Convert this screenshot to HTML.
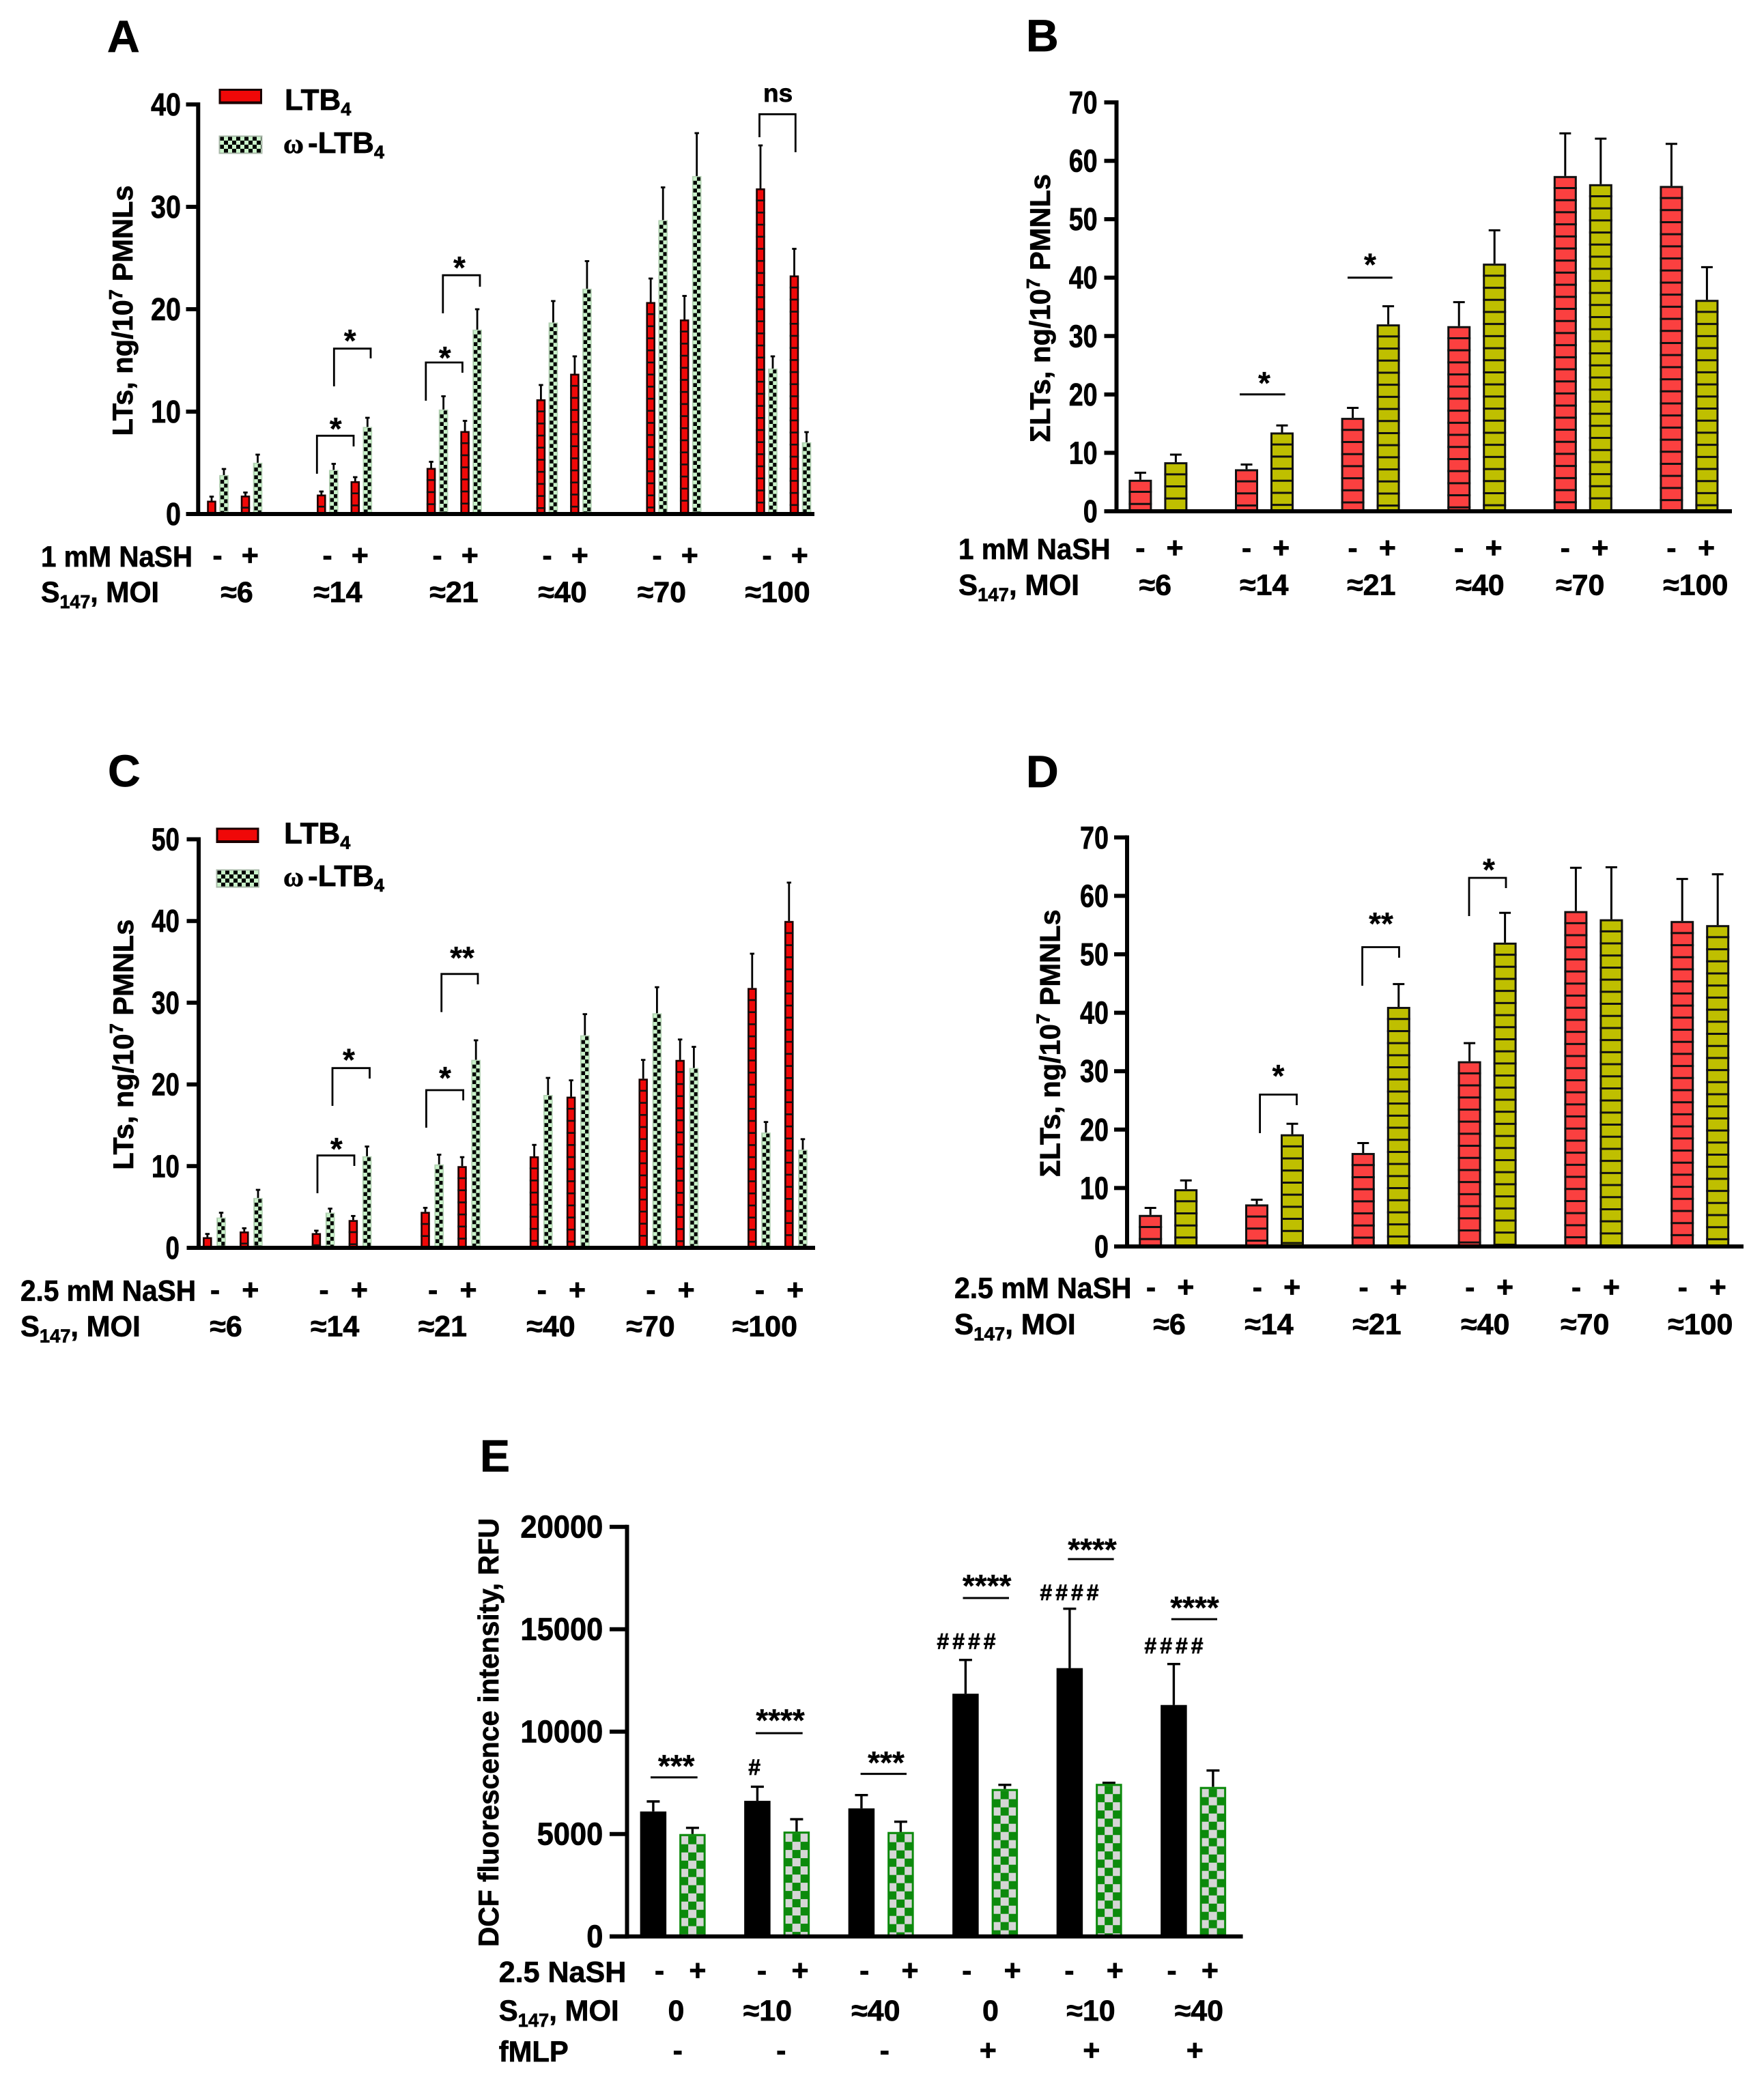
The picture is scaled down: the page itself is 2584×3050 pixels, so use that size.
<!DOCTYPE html>
<html lang="en">
<head>
<meta charset="utf-8">
<title>Leukotriene and DCF fluorescence panels</title>
<style>
html,body{margin:0;padding:0;background:#fff}
svg{display:block}
text{font-family:"Liberation Sans","DejaVu Sans",sans-serif;font-weight:700;fill:#000;stroke:#000;stroke-width:.7px}
.letter{font-size:66px}
.row{font-size:43px}
.ytitle{font-size:42px}
.star{font-size:46px;text-anchor:middle;stroke-width:.3px}
.hash{font-size:32px;text-anchor:middle;letter-spacing:5px}
.leg{font-size:44px}
.bracket{fill:none;stroke:#000;stroke-width:2.8}
.sigline{stroke:#000;stroke-width:3}
</style>
</head>
<body>
<svg id="figure" width="2584" height="3050" viewBox="0 0 2584 3050">
  <defs id="defs">
    <pattern id="legend-check" patternUnits="userSpaceOnUse" x="322" y="200" width="12" height="12">
      <rect width="12" height="12" fill="#c9f2c9"/><rect width="6" height="6" fill="#000"/><rect x="6" y="6" width="6" height="6" fill="#000"/>
    </pattern>
    <pattern id="legend-check-c" patternUnits="userSpaceOnUse" x="318" y="1275" width="12" height="12">
      <rect width="12" height="12" fill="#c9f2c9"/><rect width="6" height="6" fill="#000"/><rect x="6" y="6" width="6" height="6" fill="#000"/>
    </pattern>
  </defs>
  <rect width="2584" height="3050" fill="#fff"/>

  <g id="panel-a">
    <text class="letter" x="157" y="76">A</text>
    <text class="ytitle" transform="translate(194,638.5) rotate(-90)" textLength="367" lengthAdjust="spacingAndGlyphs">LTs, ng/10<tspan font-size="28" dy="-15">7</tspan><tspan dy="15"> PMNLs</tspan></text>
    <g>
      <rect x="322" y="131.5" width="60.5" height="19.5" fill="#f00808" stroke="#1a0000" stroke-width="3"/>
      <rect x="321.5" y="148.5" width="62" height="4" fill="#1a0000"/>
      <text class="leg" x="417" y="161">LTB<tspan font-size="27" dy="8">4</tspan></text>
      <rect x="321.5" y="199.5" width="62" height="25" fill="url(#legend-check)" stroke="#a9b8a9" stroke-width="2"/>
      <text x="415" y="224" font-size="41" style="font-family:'Liberation Serif',serif">ω</text>
      <text class="leg" x="451" y="224">-LTB<tspan font-size="27" dy="8">4</tspan></text>
    </g>
    <text class="row" x="60" y="830" textLength="222" lengthAdjust="spacingAndGlyphs">1 mM NaSH</text>
    <text class="row" x="60" y="882" textLength="173" lengthAdjust="spacingAndGlyphs">S<tspan font-size="28" dy="9">147</tspan><tspan dy="-9">, MOI</tspan></text>
    <path class="bracket" d="M464.3 694V638.3H518V654"/>
    <text class="star" x="491.7" y="644">*</text>
    <path class="bracket" d="M489.3 566V510.7H543V525"/>
    <text class="star" x="512.7" y="515">*</text>
    <path class="bracket" d="M623.8 587V531H677.4V546"/>
    <text class="star" x="651.7" y="540">*</text>
    <path class="bracket" d="M648.8 459V403.2H703V420"/>
    <text class="star" x="673" y="408">*</text>
    <path class="bracket" d="M1112.5 201V167.3H1165.3V223"/>
    <text x="1139.6" y="149" font-size="37" text-anchor="middle">ns</text>
  </g>

  <g id="panel-b">
    <text class="letter" x="1503" y="75">B</text>
    <text class="ytitle" transform="translate(1538,648) rotate(-90)" textLength="393" lengthAdjust="spacingAndGlyphs">ΣLTs, ng/10<tspan font-size="28" dy="-15">7</tspan><tspan dy="15"> PMNLs</tspan></text>
    <text class="row" x="1404" y="819" textLength="222.6" lengthAdjust="spacingAndGlyphs">1 mM NaSH</text>
    <text class="row" x="1404" y="871.5" textLength="177" lengthAdjust="spacingAndGlyphs">S<tspan font-size="28" dy="9">147</tspan><tspan dy="-9">, MOI</tspan></text>
    <line class="sigline" x1="1816" x2="1882.7" y1="577.7" y2="577.7"/>
    <text class="star" x="1852" y="577">*</text>
    <line class="sigline" x1="1974" x2="2039.7" y1="406.7" y2="406.7"/>
    <text class="star" x="2007" y="403.5">*</text>
  </g>

  <g id="panel-c">
    <text class="letter" x="158" y="1152">C</text>
    <text class="ytitle" transform="translate(195,1713.8) rotate(-90)" textLength="367" lengthAdjust="spacingAndGlyphs">LTs, ng/10<tspan font-size="28" dy="-15">7</tspan><tspan dy="15"> PMNLs</tspan></text>
    <g>
      <rect x="318" y="1214" width="60" height="19.5" fill="#f00808" stroke="#1a0000" stroke-width="3"/>
      <rect x="317" y="1231" width="62" height="4" fill="#1a0000"/>
      <text class="leg" x="416" y="1235.5">LTB<tspan font-size="27" dy="8">4</tspan></text>
      <rect x="317.5" y="1274.5" width="61.5" height="25" fill="url(#legend-check-c)" stroke="#a9b8a9" stroke-width="2"/>
      <text x="415" y="1298" font-size="41" style="font-family:'Liberation Serif',serif">ω</text>
      <text class="leg" x="451" y="1298">-LTB<tspan font-size="27" dy="8">4</tspan></text>
    </g>
    <text class="row" x="30" y="1905.7" textLength="257" lengthAdjust="spacingAndGlyphs">2.5 mM NaSH</text>
    <text class="row" x="30" y="1957.3" textLength="175.7" lengthAdjust="spacingAndGlyphs">S<tspan font-size="28" dy="9">147</tspan><tspan dy="-9">, MOI</tspan></text>
    <path class="bracket" d="M465 1748V1692.7H519V1708"/>
    <text class="star" x="492.8" y="1699">*</text>
    <path class="bracket" d="M487 1620V1564.7H541.5V1580"/>
    <text class="star" x="511" y="1568.6">*</text>
    <path class="bracket" d="M624.4 1652V1597H678.6V1612"/>
    <text class="star" x="652" y="1595">*</text>
    <path class="bracket" d="M646.7 1482.6V1426.8H700V1442"/>
    <text class="star" x="677" y="1419">**</text>
  </g>

  <g id="panel-d">
    <text class="letter" x="1503" y="1153">D</text>
    <text class="ytitle" transform="translate(1552.7,1724.4) rotate(-90)" textLength="392" lengthAdjust="spacingAndGlyphs">ΣLTs, ng/10<tspan font-size="28" dy="-15">7</tspan><tspan dy="15"> PMNLs</tspan></text>
    <text class="row" x="1398" y="1901.6" textLength="259.5" lengthAdjust="spacingAndGlyphs">2.5 mM NaSH</text>
    <text class="row" x="1398" y="1954.4" textLength="177.7" lengthAdjust="spacingAndGlyphs">S<tspan font-size="28" dy="9">147</tspan><tspan dy="-9">, MOI</tspan></text>
    <path class="bracket" d="M1845.6 1660V1603.5H1899.5V1619"/>
    <text class="star" x="1872.5" y="1592">*</text>
    <path class="bracket" d="M1995.6 1444V1387.5H2049.5V1403"/>
    <text class="star" x="2023" y="1369">**</text>
    <path class="bracket" d="M2152 1342V1286H2206V1301"/>
    <text class="star" x="2181" y="1290">*</text>
  </g>

  <g id="panel-e">
    <text class="letter" x="703" y="2155.5">E</text>
    <text class="ytitle" transform="translate(730,2852) rotate(-90)" textLength="628" lengthAdjust="spacingAndGlyphs">DCF fluorescence intensity, RFU</text>
    <text class="row" x="730.7" y="2903.3" textLength="186.6" lengthAdjust="spacingAndGlyphs">2.5 NaSH</text>
    <text class="row" x="730.7" y="2960" textLength="176" lengthAdjust="spacingAndGlyphs">S<tspan font-size="28" dy="9">147</tspan><tspan dy="-9">, MOI</tspan></text>
    <text class="row" x="730.7" y="3020" textLength="102" lengthAdjust="spacingAndGlyphs">fMLP</text>
    <line class="sigline" x1="953" x2="1021.7" y1="2603.7" y2="2603.7"/>
    <text class="star" x="990.7" y="2603">***</text>
    <line class="sigline" x1="1107" x2="1175.7" y1="2539" y2="2539"/>
    <text class="star" x="1143" y="2536">****</text>
    <line class="sigline" x1="1260.6" x2="1328" y1="2598.6" y2="2598.6"/>
    <text class="star" x="1298" y="2598">***</text>
    <line class="sigline" x1="1410.5" x2="1478" y1="2341" y2="2341"/>
    <text class="star" x="1445.7" y="2339">****</text>
    <line class="sigline" x1="1564.3" x2="1631.6" y1="2284" y2="2284"/>
    <text class="star" x="1600" y="2286">****</text>
    <line class="sigline" x1="1715.8" x2="1783" y1="2372" y2="2372"/>
    <text class="star" x="1750" y="2371">****</text>
    <text class="hash" x="1107.7" y="2600">#</text>
    <text class="hash" x="1418" y="2415.4">####</text>
    <text class="hash" x="1569" y="2344">####</text>
    <text class="hash" x="1722" y="2422">####</text>
  </g>
  <g id="marks"></g>
</svg>

<script>
/* ---------- chart data ---------- */
const moiCategories = ['≈6', '≈14', '≈21', '≈40', '≈70', '≈100'];
const moiCategoriesE = ['0', '≈10', '≈40', '0', '≈10', '≈40'];
const nashSigns = ['-', '+'];
const fmlpSigns = ['-', '-', '-', '+', '+', '+'];

const ticksA = [0, 10, 20, 30, 40];
const ticksB = [0, 10, 20, 30, 40, 50, 60, 70];
const ticksC = [0, 10, 20, 30, 40, 50];
const ticksD = [0, 10, 20, 30, 40, 50, 60, 70];
const ticksE = [0, 5000, 10000, 15000, 20000];

const ltb4A = [1.3, 1.8, 1.9, 3.2, 4.5, 8.1, 11.2, 13.7, 20.7, 19, 31.8, 23.3];
const ltb4ErrA = [0.4, 0.3, 0.3, 0.4, 0.6, 1, 1.4, 1.7, 2.3, 2.3, 4.2, 2.6];
const omegaA = [3.8, 5, 4.3, 8.5, 10.2, 18, 18.7, 22, 28.7, 33, 14.2, 7];
const omegaErrA = [0.6, 0.8, 0.6, 0.9, 1.3, 2, 2.1, 2.7, 3.2, 4.2, 1.2, 1];

const sumControlB = [5.4, 7.2, 16, 31.7, 57.4, 55.7];
const sumControlErrB = [1.2, 0.8, 1.7, 4.1, 7.3, 7.2];
const sumNashB = [8.4, 13.5, 32, 42.4, 56, 36.2];
const sumNashErrB = [1.3, 1.2, 3.1, 5.7, 7.8, 5.6];

const ltb4C = [1.3, 2, 1.8, 3.4, 4.4, 10, 11.2, 18.5, 20.7, 23, 31.8, 40];
const ltb4ErrC = [0.4, 0.4, 0.3, 0.5, 0.5, 1.1, 1.4, 2, 2.3, 2.5, 4.2, 4.7];
const omegaC = [3.7, 6.1, 4.3, 11.2, 10.2, 23, 18.7, 26, 28.7, 22, 14.1, 12];
const omegaErrC = [0.6, 1, 0.5, 1.2, 1.2, 2.4, 2.1, 2.6, 3.2, 2.6, 1.3, 1.3];

const sumControlD = [5.4, 7.2, 16, 31.7, 57.4, 55.7];
const sumControlErrD = [1.2, 0.8, 1.7, 3.1, 7.4, 7.2];
const sumNashD = [9.8, 19.2, 41, 52, 56, 55];
const sumNashErrD = [1.5, 1.8, 3.9, 5.1, 8.9, 8.7];

const dcfControlE = [6100, 6620, 6250, 11850, 13100, 11300];
const dcfControlErrE = [490, 690, 650, 1650, 2900, 2000];
const dcfNashE = [5000, 5120, 5100, 7200, 7450, 7300];
const dcfNashErrE = [300, 600, 500, 200, 50, 800];

/* ---------- drawing ---------- */
const svg = document.getElementById('figure');
const defs = document.getElementById('defs');
const marks = document.getElementById('marks');
const svgNs = svg.namespaceURI;
let patternCount = 0;

function mk(parent, tag, attrs) {
  const el = document.createElementNS(svgNs, tag);
  for (const k in attrs) el.setAttribute(k, attrs[k]);
  parent.appendChild(el);
  return el;
}

function checkerFill(left, top, cw, ch, light, dark) {
  const id = 'bar-check-' + (++patternCount);
  const p = mk(defs, 'pattern', { id: id, patternUnits: 'userSpaceOnUse', x: left, y: top, width: cw * 2, height: ch * 2 });
  mk(p, 'rect', { width: cw * 2, height: ch * 2, fill: dark });
  mk(p, 'rect', { x: 0, y: 0, width: cw, height: ch, fill: light });
  mk(p, 'rect', { x: cw, y: ch, width: cw, height: ch, fill: light });
  return 'url(#' + id + ')';
}

function drawBar(g, kind, cx, w, top, base) {
  const left = cx - w / 2;
  const h = Math.max(base - top, 0);
  if (kind === 'solid') {
    const r = mk(g, 'rect', { x: left, y: top, width: w, height: h, fill: '#000' });
    
    
  } else if (kind === 'green-check') {
    const fill = checkerFill(left + 1 - 12, top + 3, 12, 12, '#0c8a0c', '#d6d6d6');
    const r = mk(g, 'rect', { x: left + 1.5, y: top + 1.5, width: w - 3, height: Math.max(h - 1.5, 0), fill: fill, stroke: '#0c8a0c', 'stroke-width': 3 });
    
    
  } else if (kind === 'omega-check') {
    const fill = checkerFill(left + 1.5, top + 1.2, 5.5, 5.7, '#c9f2c9', '#000');
    const r = mk(g, 'rect', { x: left + 0.7, y: top + 0.7, width: w - 1.4, height: Math.max(h - 0.7, 0), fill: fill, stroke: '#b4d2b4', 'stroke-width': 1.6 });
    
    
  } else {
    const small = kind === 'red-small';
    const fill = kind === 'yellow' ? '#bfbf00' : (small ? '#f00808' : '#fb4040');
    const sw = small ? 2.6 : 3;
    const r = mk(g, 'rect', { x: left + sw / 2, y: top + sw / 2, width: w - sw, height: Math.max(h - sw / 2, 0), fill: fill, stroke: small ? '#1a0000' : '#111', 'stroke-width': sw });
    
    
    for (let y = top + 17.7; y < base - 1; y += 17.7) {
      const s = mk(g, 'line', { x1: left, x2: left + w, y1: y, y2: y, stroke: '#111', 'stroke-width': sw });
      
      
    }
  }
}

function drawPanel(c) {
  const g = mk(marks, 'g', {});
  
  
  const yScale = v => c.y0 - v * c.unit;
  const xScale = (i, s) => {
    const group = Math.floor(i / c.pairs);
    const pair = i % c.pairs;
    return c.x0 + group * c.groupStep + pair * c.pairStep + s * c.seriesStep;
  };

  c.series.forEach((ser, s) => {
    ser.values.forEach((v, i) => {
      const cx = xScale(i, s);
      const topY = yScale(v);
      const errY = yScale(v + ser.errors[i]);
      const stem = mk(g, 'line', { x1: cx, x2: cx, y1: topY, y2: errY, stroke: '#000', 'stroke-width': c.errW });
      
      
      const cap = mk(g, 'line', { x1: cx - c.capW / 2, x2: cx + c.capW / 2, y1: errY, y2: errY, stroke: '#000', 'stroke-width': c.errW });
      
      
      drawBar(g, ser.kind, cx, c.barW, topY, c.y0);
    });
  });

  /* axes */
  const maxTick = c.ticks[c.ticks.length - 1];
  const yAxis = mk(g, 'line', { x1: c.axisX, x2: c.axisX, y1: yScale(maxTick) - 3, y2: c.y0 + 3, stroke: '#000', 'stroke-width': 6 });
  
  
  const xAxis = mk(g, 'line', { x1: c.tickLeft, x2: c.axisRight, y1: c.y0, y2: c.y0, stroke: '#000', 'stroke-width': 6 });
  
  

  c.ticks.forEach(t => {
    const y = yScale(t);
    const tick = mk(g, 'line', { x1: c.tickLeft, x2: c.axisX, y1: y, y2: y, stroke: '#000', 'stroke-width': 6 });
    
    
    const label = String(t);
    const txt = mk(g, 'text', { x: c.labelRight, y: y + 16, 'font-size': 46, 'text-anchor': 'end', textLength: label.length * c.digitW, lengthAdjust: 'spacingAndGlyphs' });
    txt.textContent = label;
    
    
  });

  /* treatment signs and category row */
  const groups = c.categories.length;
  for (let i = 0; i < groups; i++) {
    nashSigns.forEach((sign, k) => {
      const base = k === 0 ? c.minusX0 + i * c.minusStep : c.plusX0 + i * c.plusStep + (c.plusNudge ? c.plusNudge[i] : 0);
      const t = mk(g, 'text', { x: base, y: c.signY, 'font-size': 43, 'text-anchor': 'middle' });
      t.textContent = sign;
      
      
    });
    const m = mk(g, 'text', { x: c.moiX0 + i * c.groupStep + c.moiNudge[i], y: c.moiY, 'font-size': 43, 'text-anchor': 'middle' });
    m.textContent = c.categories[i];
    
    
    if (c.fmlp) {
      const f = mk(g, 'text', { x: c.fmlpX0 + i * c.fmlpStep, y: c.fmlpY, 'font-size': 43, 'text-anchor': 'middle' });
      f.textContent = c.fmlp[i];
      
      
    }
  }
}

drawPanel({
  id: 'a', pairs: 2, x0: 310, groupStep: 160.8, pairStep: 49.5, seriesStep: 18, barW: 13.5, errW: 2.8, capW: 6.5,
  y0: 753, unit: 15, axisX: 290.3, tickLeft: 272.5, axisRight: 1193, labelRight: 265, digitW: 22, ticks: ticksA,
  series: [{ kind: 'red-small', values: ltb4A, errors: ltb4ErrA }, { kind: 'omega-check', values: omegaA, errors: omegaErrA }],
  categories: moiCategories, minusX0: 318.6, minusStep: 161, plusX0: 366.3, plusStep: 161, signY: 828,
  moiX0: 347, moiNudge: [0, -13, -3.6, -5.4, -20.8, -12], moiY: 882
});
drawPanel({
  id: 'b', pairs: 1, x0: 1670.4, groupStep: 155.6, pairStep: 0, seriesStep: 52, barW: 34, errW: 3, capW: 17,
  y0: 749, unit: 8.557, axisX: 1635.5, tickLeft: 1617.5, axisRight: 2537, labelRight: 1607.7, digitW: 21, ticks: ticksB,
  series: [{ kind: 'red', values: sumControlB, errors: sumControlErrB }, { kind: 'yellow', values: sumNashB, errors: sumNashErrB }],
  categories: moiCategories, minusX0: 1670.4, minusStep: 155.6, plusX0: 1721, plusStep: 155.7, signY: 817,
  moiX0: 1692.3, moiNudge: [0, 3.8, 5.3, 8.9, 0, 13.5], moiY: 871.5
});
drawPanel({
  id: 'c', pairs: 2, x0: 303.8, groupStep: 159.6, pairStep: 54, seriesStep: 20.2, barW: 13.5, errW: 2.8, capW: 6.5,
  y0: 1828, unit: 11.97, axisX: 291, tickLeft: 273.5, axisRight: 1194, labelRight: 263, digitW: 20.5, ticks: ticksC,
  series: [{ kind: 'red-small', values: ltb4C, errors: ltb4ErrC }, { kind: 'omega-check', values: omegaC, errors: omegaErrC }],
  categories: moiCategories, minusX0: 315, minusStep: 159.6, plusX0: 366.8, plusStep: 159.6, signY: 1904,
  moiX0: 331, moiNudge: [0, 0, -1.9, -2.8, -16.4, -8.6], moiY: 1957.3
});
drawPanel({
  id: 'd', pairs: 1, x0: 1685.2, groupStep: 155.8, pairStep: 0, seriesStep: 52, barW: 34, errW: 3, capW: 17,
  y0: 1826, unit: 8.56, axisX: 1651, tickLeft: 1632, axisRight: 2554, labelRight: 1624, digitW: 21, ticks: ticksD,
  series: [{ kind: 'red', values: sumControlD, errors: sumControlErrD }, { kind: 'yellow', values: sumNashD, errors: sumNashErrD }],
  categories: moiCategories, minusX0: 1686, minusStep: 155.75, plusX0: 1736.8, plusStep: 155.9, signY: 1900,
  moiX0: 1713, moiNudge: [0, -9.8, -7.6, -4.7, -14.5, -1.2], moiY: 1954.4
});
drawPanel({
  id: 'e', pairs: 1, x0: 956.9, groupStep: 152.5, pairStep: 0, seriesStep: 57.5, barW: 38.5, errW: 3.4, capW: 19,
  y0: 2836.7, unit: 0.03, axisX: 918.5, tickLeft: 893, axisRight: 1820.6, labelRight: 883.4, digitW: 24.2, ticks: ticksE,
  series: [{ kind: 'solid', values: dcfControlE, errors: dcfControlErrE }, { kind: 'green-check', values: dcfNashE, errors: dcfNashErrE }],
  categories: moiCategoriesE, minusX0: 966, minusStep: 150.1, plusX0: 1021.9, plusStep: 150.1, plusNudge: [0, 0, 11, 11, 11, 0], signY: 2901,
  moiX0: 990.5, moiNudge: [0, -18.6, -12.7, 3, -2.5, 3.4], moiY: 2960,
  fmlp: fmlpSigns, fmlpX0: 992.8, fmlpStep: 151.5, fmlpY: 3018
});
</script>
</body>
</html>
